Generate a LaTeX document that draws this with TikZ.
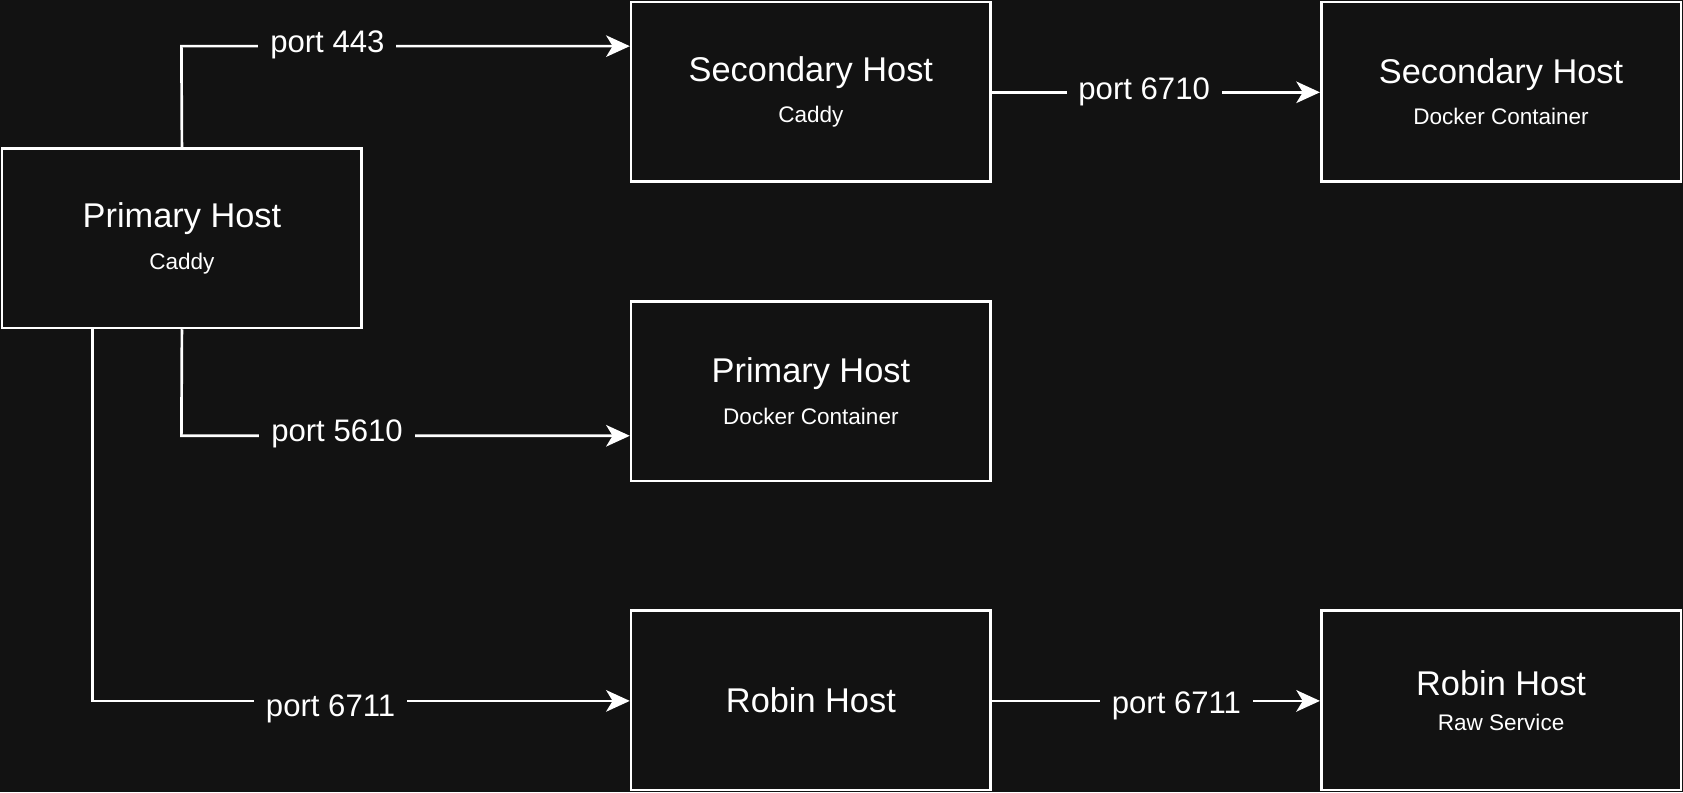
\documentclass[tikz,border=0pt]{standalone}
\usepackage{fontspec}
\setmainfont{Liberation Sans}
\usetikzlibrary{arrows.meta}
\definecolor{bg}{HTML}{121212}
\begin{document}
\begin{tikzpicture}[x=1pt,y=-1pt,
  box/.style={draw=white,line width=2.5pt,fill=bg,minimum width=335pt,minimum height=167pt,align=center,text=white,inner sep=0pt},
  conn/.style={draw=white,line width=2.5pt,-{Stealth[length=22pt,width=20pt,inset=6pt]}},
  lab/.style={fill=bg,text=white,font=\fontsize{29}{32}\selectfont,inner sep=11pt}]
\fill[bg] (0,0) rectangle (1568,738);
\useasboundingbox (0,0) rectangle (1568,738);
\newcommand{\bx}[2]{{\fontsize{32}{36}\selectfont #1}\\[16pt]{\fontsize{21}{24}\selectfont #2}}
\node[box] (pc) at (169.5,222) {\bx{Primary Host}{Caddy}};
\node[box] (sc) at (755.5,85.5) {\bx{Secondary Host}{Caddy}};
\node[box] (sd) at (1398.5,85.5) {\bx{Secondary Host}{Docker Container}};
\node[box] (pd) at (755.5,364.5) {\bx{Primary Host}{Docker Container}};
\node[box] (rh) at (755.5,652.5) {{\fontsize{32}{36}\selectfont Robin Host}};
\node[box] (rr) at (1398.5,652.5) {\bx{Robin Host}{Raw Service}};
\coordinate (a1) at (169,43);
\coordinate (a2) at (169,406);
\coordinate (a3) at (86,653);
\draw[conn] (pc.north) -- (a1) -- (sc.west |- a1);
\node[lab] at (305,42) {port 443};
\draw[conn] (pc.south) -- (a2) -- (pd.west |- a2);
\node[lab] at (314,404) {port 5610};
\draw[conn] (pc.south -| a3) -- (a3) -- (rh.west |- a3);
\node[lab] at (308,660) {port 6711};
\draw[conn] (sc.east |- 0,86) -- (sd.west |- 0,86);
\node[lab] at (1066,86) {port 6710};
\draw[conn] (rh.east |- 0,653) -- (rr.west |- 0,653);
\node[lab] at (1096,658) {port 6711};
\end{tikzpicture}
\end{document}
